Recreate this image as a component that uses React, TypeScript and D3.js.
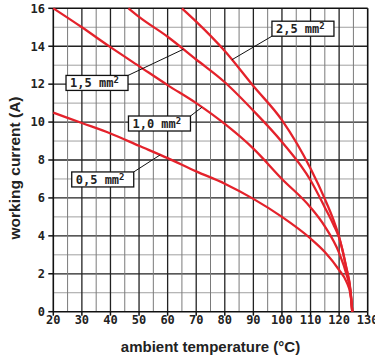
import React from "react";
import * as d3 from "d3";

// ---- data ----
const xTicks = [20, 30, 40, 50, 60, 70, 80, 90, 100, 110, 120, 130];
const yTicks = [0, 2, 4, 6, 8, 10, 12, 14, 16];

const seriesNames = ["0,5 mm", "1,0 mm", "1,5 mm", "2,5 mm"];

const temp05 = [20, 30, 40, 50, 60, 70, 80, 90, 100, 110, 115, 120, 122.5, 124, 124.6];
const curr05 = [10.5, 9.95, 9.4, 8.75, 8.1, 7.4, 6.75, 5.95, 5.0, 3.86, 3.15, 2.2, 1.6, 0.9, 0];

const temp10 = [20, 30, 40, 50, 60, 70, 80, 90, 100, 110, 115, 120, 122.5, 124, 124.6];
const curr10 = [16, 15, 13.95, 12.95, 11.95, 11.0, 9.9, 8.6, 7.0, 5.5, 4.5, 3.1, 2.0, 1.0, 0];

const temp15 = [46.3, 50, 60, 70, 80, 90, 100, 110, 115, 118, 120, 122.5, 124, 124.6];
const curr15 = [16, 15.55, 14.5, 13.3, 12.1, 10.6, 8.95, 6.93, 5.5, 4.6, 3.9, 2.3, 1.05, 0];

const temp25 = [65, 70, 80, 90, 100, 110, 115, 118, 120, 122.5, 124, 124.6];
const curr25 = [16, 15.3, 13.75, 11.9, 10.1, 7.55, 5.95, 4.85, 3.95, 2.35, 1.1, 0];

const seriesTemps = [temp05, temp10, temp15, temp25];
const seriesCurrents = [curr05, curr10, curr15, curr25];

// annotation layout: box top-left (data coords), leader target temperature
const labelBoxT = [26.45, 46.3, 24.45, 96.5];
const labelBoxI = [7.37, 10.32, 12.46, 15.32];
const leaderT = [57.4, 72, 65.5, 82.5];
const leaderFromBottomLeft = [false, false, false, true];

const W = 375;
const H = 360;
const left = 53.3;
const right = 367.7;
const top = 8.3;
const bottom = 311.7;

const RED = "#e4222b";
const MONO = "'DejaVu Sans Mono', monospace";
const SANS = "'Liberation Sans', Arial, sans-serif";

function interp(ts: number[], is: number[], t: number) {
  for (let k = 0; k < ts.length - 1; k++) {
    if (t >= ts[k] && t <= ts[k + 1]) {
      const f = (t - ts[k]) / (ts[k + 1] - ts[k]);
      return is[k] + f * (is[k + 1] - is[k]);
    }
  }
  return is[is.length - 1];
}

export default function App() {
  const x = d3.scaleLinear().domain([20, 130]).range([left, right]);
  const y = d3.scaleLinear().domain([0, 16]).range([bottom, top]);

  const line = d3
    .line<[number, number]>()
    .x((d) => x(d[0]))
    .y((d) => y(d[1]))
    .curve(d3.curveMonotoneX);

  const vGrid = d3.range(25, 130, 5);
  const hGrid = d3.range(1, 16, 1);

  const boxW = 62;
  const boxH = 15;

  return (
    <svg
      width={W}
      height={H}
      style={{ position: "absolute", left: 0, top: 0, background: "#fff" }}
    >
      <rect x={0} y={0} width={W} height={H} fill="#fff" />
      {/* grid */}
      {hGrid.map((v) => (
        <line
          key={"h" + v}
          x1={left}
          x2={right}
          y1={y(v)}
          y2={y(v)}
          stroke={v % 2 === 0 ? "#222" : "#a0a0a0"}
          strokeWidth={v % 2 === 0 ? 1.3 : 1}
        />
      ))}
      {vGrid.map((v) => (
        <line
          key={"v" + v}
          x1={x(v)}
          x2={x(v)}
          y1={top}
          y2={bottom}
          stroke={v % 10 === 0 ? "#222" : "#7a7a7a"}
          strokeWidth={v % 10 === 0 ? 1.3 : 1}
        />
      ))}
      {/* frame */}
      <line x1={left} x2={right} y1={top} y2={top} stroke="#111" strokeWidth={1.6} />
      <line x1={right} x2={right} y1={top} y2={bottom} stroke="#111" strokeWidth={1.6} />
      <line x1={left} x2={left} y1={top} y2={bottom} stroke="#111" strokeWidth={1.6} />
      <line x1={left} x2={right} y1={bottom} y2={bottom} stroke="#111" strokeWidth={1.6} />

      {/* ticks */}
      {yTicks.map((v) => (
        <g key={"yt" + v}>
          <line x1={left - 5} x2={left} y1={y(v)} y2={y(v)} stroke="#111" strokeWidth={1.5} />
          <text
            x={45}
            y={y(v)}
            dy="0.36em"
            textAnchor="end"
            fontFamily={MONO}
            fontWeight="bold"
            fontSize={12}
            fill="#222"
          >
            {v}
          </text>
        </g>
      ))}
      {xTicks.map((v) => (
        <g key={"xt" + v}>
          <line x1={x(v)} x2={x(v)} y1={bottom} y2={bottom + 4} stroke="#111" strokeWidth={1.5} />
          <text
            x={x(v)}
            y={324}
            textAnchor="middle"
            fontFamily={MONO}
            fontWeight="bold"
            fontSize={12}
            fill="#222"
          >
            {v}
          </text>
        </g>
      ))}

      {/* curves */}
      {seriesTemps.map((ts, i) => (
        <path
          key={"c" + i}
          d={line(ts.map((t, k) => [t, seriesCurrents[i][k]] as [number, number])) || ""}
          fill="none"
          stroke={RED}
          strokeWidth={2.3}
          strokeLinejoin="round"
        />
      ))}

      {/* labels */}
      {seriesNames.map((name, i) => {
        const bx = x(labelBoxT[i]);
        const by = y(labelBoxI[i]);
        const sx = leaderFromBottomLeft[i] ? bx : bx + boxW;
        const sy = leaderFromBottomLeft[i] ? by + boxH : by;
        const tx = x(leaderT[i]);
        const ty = y(interp(seriesTemps[i], seriesCurrents[i], leaderT[i]));
        return (
          <g key={"l" + i}>
            <line x1={sx} y1={sy} x2={tx} y2={ty} stroke="#111" strokeWidth={1} />
            <rect
              x={bx}
              y={by}
              width={boxW}
              height={boxH}
              fill="#fff"
              stroke="#111"
              strokeWidth={1.3}
            />
            <text
              x={bx + 4}
              y={by + boxH / 2}
              dy="0.38em"
              textAnchor="start"
              fontFamily={MONO}
              fontWeight="bold"
              fontSize={12}
              fill="#222"
            >
              {name}
              <tspan fontSize={9} dy={-4}>
                2
              </tspan>
            </text>
          </g>
        );
      })}

      {/* axis titles */}
      <text
        x={(left + right) / 2}
        y={352}
        textAnchor="middle"
        fontFamily={SANS}
        fontWeight="bold"
        fontSize={15}
        fill="#222"
      >
        ambient temperature (°C)
      </text>
      <text
        transform={`translate(20, 168) rotate(-90)`}
        textAnchor="middle"
        fontFamily={SANS}
        fontWeight="bold"
        fontSize={15.5}
        fill="#222"
      >
        working current (A)
      </text>
    </svg>
  );
}
